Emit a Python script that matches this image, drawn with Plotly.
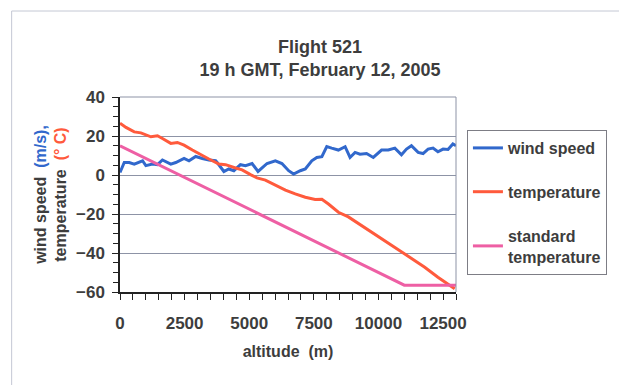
import plotly.graph_objects as go

# ---- data ----
wind_alt = [0, 165, 358, 551, 872, 1000, 1257, 1450, 1642, 1965, 2158, 2478, 2670, 2930,
            3183, 3440, 3700, 3760, 4020, 4210, 4405, 4660, 4855, 5110, 5340, 5690, 6010,
            6265, 6525, 6717, 6975, 7170, 7420, 7615, 7810, 8000, 8190, 8450, 8710, 8900,
            9095, 9285, 9540, 9800, 10120, 10380, 10635, 10890, 11085, 11275, 11535, 11725,
            11920, 12110, 12300, 12500, 12690, 12880, 13000]
wind_speed = [1.3, 6.4, 6.4, 5.6, 7.3, 4.8, 5.6, 5.3, 7.7, 5.6, 6.4, 8.5, 7.3, 9.5,
              8.5, 7.7, 7.3, 6.4, 1.8, 3.1, 2.2, 5.3, 4.8, 5.9, 1.8, 5.9, 7.3,
              5.9, 2.2, 0.5, 2.2, 3.1, 7.3, 9.0, 9.4, 14.6, 13.8, 12.8, 14.5, 9.0,
              11.6, 10.7, 11.0, 9.0, 12.8, 12.8, 13.8, 10.4, 13.3, 15.0, 11.6, 11.0,
              13.3, 13.8, 11.9, 13.3, 13.1, 15.9, 15.0]

temp_alt = [0, 231, 551, 808, 1195, 1450, 1642, 1965, 2220, 2478, 2800, 3120, 3440, 3826,
            4085, 4470, 4725, 5050, 5300, 5625, 6010, 6400, 6780, 7170, 7550, 7810, 8065,
            8450, 8836, 9860, 10960, 11790, 12300, 12950]
temperature = [26.6, 24.4, 22.1, 21.6, 19.6, 20.1, 18.7, 16.2, 16.7, 15.3, 12.8, 10.7, 8.2, 5.6,
               5.3, 3.6, 2.6, 0.2, -1.5, -2.6, -5.1, -7.7, -9.7, -11.4, -12.6, -12.5, -14.9,
               -19.1, -21.5, -30.2, -40.0, -47.3, -52.4, -58.3]

std_alt = [0, 11000, 13000]
std_temperature = [15, -56.5, -56.5]

x_ticks = [0, 2500, 5000, 7500, 10000, 12500]
y_ticks = [-60, -40, -20, 0, 20, 40]

# ---- styling ----
FONT = "Liberation Sans, Arial, sans-serif"
TXT = "#3d3d3d"
BLUE = "#3168cc"
RED = "#ff5a3c"
PINK = "#ee5fa4"
GRID = "#8d93a6"

fig = go.Figure()
fig.add_trace(go.Scatter(x=wind_alt, y=wind_speed, mode="lines", name="wind speed",
                         line=dict(color=BLUE, width=3), legendgroup="a"))
fig.add_trace(go.Scatter(x=temp_alt, y=temperature, mode="lines", name="temperature",
                         line=dict(color=RED, width=3), legendgroup="b"))
fig.add_trace(go.Scatter(x=std_alt, y=std_temperature, mode="lines",
                         name="standard<br>temperature",
                         line=dict(color=PINK, width=3), legendgroup="c"))

L, R, T, B = 120, 161, 97, 93
W, H = 619, 385
pw, ph = W - L - R, H - T - B

fig.update_layout(
    width=W, height=H,
    margin=dict(l=L, r=R, t=T, b=B),
    paper_bgcolor="white", plot_bgcolor="white",
    font=dict(family=FONT, color=TXT),
    title=dict(text="<b>Flight 521</b><br><b>19 h GMT, February 12, 2005</b>",
               x=320 / W, xanchor="center", xref="container",
               y=1 - 53 / H, yanchor="top", yref="container",
               font=dict(size=18, color=TXT, family=FONT)),
    legend=dict(x=(469 - L) / pw, xanchor="left", y=(H - B - 130) / ph, yanchor="top",
                bordercolor="#7d7d85", borderwidth=1, bgcolor="white",
                font=dict(size=16, color=TXT, family=FONT, weight="bold"),
                tracegroupgap=20, itemwidth=30),
    showlegend=True,
)

fig.update_xaxes(
    range=[0, 13000], tickvals=x_ticks, ticktext=[str(v) for v in x_ticks],
    showline=True, linecolor="#222", linewidth=1.5,
    ticks="outside", ticklen=6, tickcolor="#222",
    minor=dict(dtick=500, ticks="outside", ticklen=6, tickcolor="#222"),
    showgrid=False, zeroline=False,
    tickfont=dict(size=17, color=TXT, family=FONT, weight="bold"),
    ticklabelstandoff=9,
    title=dict(text="<b>altitude  (m)</b>", font=dict(size=16, color=TXT, family=FONT), standoff=14),
)
fig.update_yaxes(
    range=[-60, 40], tickvals=y_ticks,
    showline=True, linecolor="#222", linewidth=1.5,
    ticks="outside", ticklen=6, tickcolor="#222",
    minor=dict(dtick=5, ticks="outside", ticklen=5, tickcolor="#222", showgrid=False),
    showgrid=True, gridcolor=GRID, gridwidth=1, zeroline=False,
    tickfont=dict(size=17, color=TXT, family=FONT, weight="bold"),
    ticklabelstandoff=4,
    title=dict(text=("<b>wind speed  <span style='color:%s'>(m/s),</span></b><br>"
                     "<b>temperature  <span style='color:%s'>(° C)</span></b>") % (BLUE, RED),
               font=dict(size=16, color=TXT, family=FONT), standoff=5),
)

# plot frame (top / right) and outer page frame
fig.add_shape(type="line", xref="paper", yref="paper", x0=0, x1=1, y0=1, y1=1,
              line=dict(color=GRID, width=1))
fig.add_shape(type="line", xref="paper", yref="paper", x0=1, x1=1, y0=0, y1=1,
              line=dict(color=GRID, width=1))
fig.add_shape(type="rect", xref="paper", yref="paper",
              x0=(11 - L) / pw, x1=2.0, y0=-1.0, y1=(H - B - 11) / ph,
              line=dict(color="#c4c8d4", width=1), layer="below")

fig.write_html("out.html", config={"displayModeBar": False},
               post_script="document.body.style.margin='0';")
